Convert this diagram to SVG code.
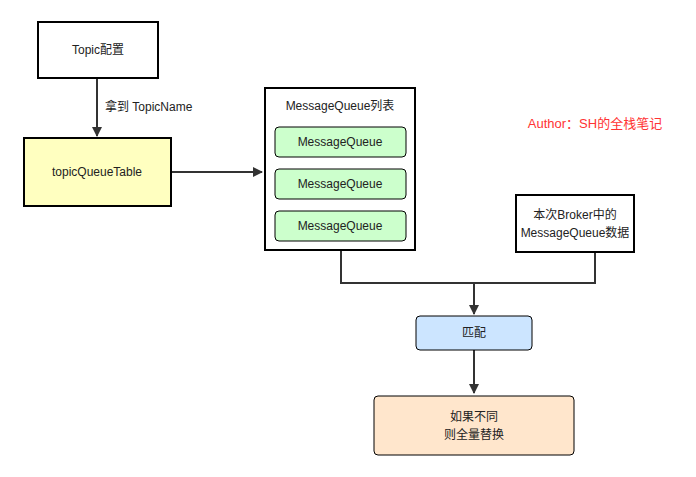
<svg xmlns="http://www.w3.org/2000/svg" width="696" height="477" viewBox="0 0 696 477">
<style>
text{font-family:"Liberation Sans","Noto Sans CJK SC",sans-serif;font-size:12px;fill:#222;text-anchor:middle}
.b{stroke:#000;stroke-width:2}
.l{fill:none;stroke:#333;stroke-width:2}
.mq{fill:#ccffcc;stroke:#000;stroke-width:1}
</style>
<defs><marker id="a" viewBox="0 0 10 10" refX="9" refY="5" markerWidth="5" markerHeight="5" orient="auto"><path d="M0,0L10,5L0,10z" fill="#333"/></marker></defs>
<rect width="696" height="477" fill="#fff"/>
<g id="connectors">
<path class="l" d="M97,78V136" marker-end="url(#a)"/>
<path class="l" d="M171,172H262" marker-end="url(#a)"/>
<path class="l" d="M341,250V283H595V252"/>
<path class="l" d="M474,283V314" marker-end="url(#a)"/>
<path class="l" d="M474,350V393" marker-end="url(#a)"/>
<text x="105" y="111" style="text-anchor:start">拿到 TopicName</text>
</g>
<g id="topic"><rect class="b" x="38" y="22" width="120" height="56" fill="#fff"/><text x="98" y="54">Topic配置</text></g>
<g id="tqt"><rect class="b" x="24" y="138" width="147" height="68" fill="#ffffc0"/><text x="97" y="176">topicQueueTable</text></g>
<g id="list"><rect class="b" x="265" y="88" width="150" height="162" fill="#fff"/><text x="340" y="110">MessageQueue列表</text>
<rect class="mq" x="275" y="127" width="131" height="30" rx="4"/><text x="340" y="146">MessageQueue</text>
<rect class="mq" x="275" y="169" width="131" height="30" rx="4"/><text x="340" y="188">MessageQueue</text>
<rect class="mq" x="275" y="211" width="131" height="30" rx="4"/><text x="340" y="230">MessageQueue</text></g>
<g id="broker"><rect class="b" x="516" y="195" width="118" height="57" fill="#fff"/><text x="575" y="219">本次Broker中的</text><text x="575" y="237">MessageQueue数据</text></g>
<g id="match"><rect x="416" y="316" width="116" height="34" rx="4" fill="#cce5ff" stroke="#000"/><text x="474" y="337">匹配</text></g>
<g id="result"><rect x="374" y="396" width="200" height="59" rx="4" fill="#ffe6cc" stroke="#000"/><text x="474" y="421">如果不同</text><text x="474" y="439">则全量替换</text></g>
<g id="author"><text x="595" y="128" style="fill:#ff3333;font-size:13px">Author：SH的全栈笔记</text></g>
</svg>
